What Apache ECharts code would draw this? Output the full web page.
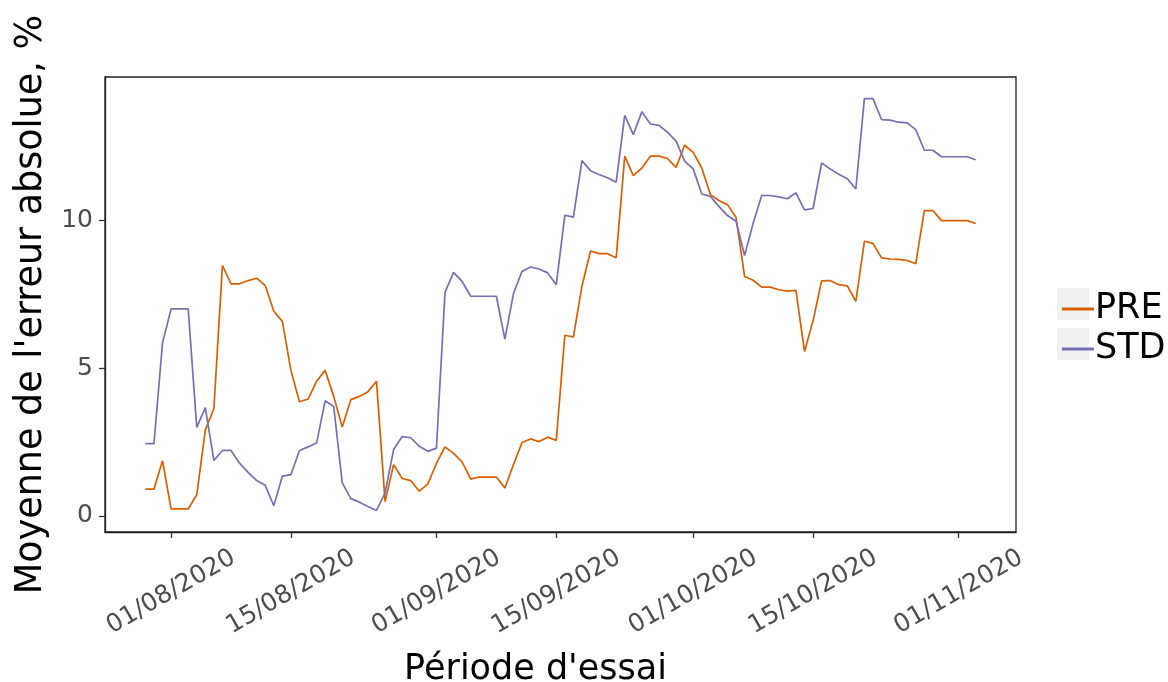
<!DOCTYPE html>
<html>
<head>
<meta charset="utf-8">
<script src="https://cdn.jsdelivr.net/npm/echarts@6/dist/echarts.min.js"></script>
<style>
html,body{margin:0;padding:0;background:#fff;}
#chart{width:1168px;height:682px;}
</style>
</head>
<body>
<div id="chart"></div>
<script>
const dates = [
'2020-07-29','2020-07-30','2020-07-31',
'2020-08-01','2020-08-02','2020-08-03','2020-08-04','2020-08-05','2020-08-06','2020-08-07','2020-08-08','2020-08-09','2020-08-10',
'2020-08-11','2020-08-12','2020-08-13','2020-08-14','2020-08-15','2020-08-16','2020-08-17','2020-08-18','2020-08-19','2020-08-20',
'2020-08-21','2020-08-22','2020-08-23','2020-08-24','2020-08-25','2020-08-26','2020-08-27','2020-08-28','2020-08-29','2020-08-30','2020-08-31',
'2020-09-01','2020-09-02','2020-09-03','2020-09-04','2020-09-05','2020-09-06','2020-09-07','2020-09-08','2020-09-09','2020-09-10',
'2020-09-11','2020-09-12','2020-09-13','2020-09-14','2020-09-15','2020-09-16','2020-09-17','2020-09-18','2020-09-19','2020-09-20',
'2020-09-21','2020-09-22','2020-09-23','2020-09-24','2020-09-25','2020-09-26','2020-09-27','2020-09-28','2020-09-29','2020-09-30',
'2020-10-01','2020-10-02','2020-10-03','2020-10-04','2020-10-05','2020-10-06','2020-10-07','2020-10-08','2020-10-09','2020-10-10',
'2020-10-11','2020-10-12','2020-10-13','2020-10-14','2020-10-15','2020-10-16','2020-10-17','2020-10-18','2020-10-19','2020-10-20',
'2020-10-21','2020-10-22','2020-10-23','2020-10-24','2020-10-25','2020-10-26','2020-10-27','2020-10-28','2020-10-29','2020-10-30','2020-10-31',
'2020-11-01','2020-11-02','2020-11-03'
];

const PRE = [
0.90,0.90,1.86,
0.23,0.23,0.23,0.71,2.90,3.63,8.47,7.85,7.85,7.96,
8.04,7.79,6.92,6.58,4.92,3.86,3.95,4.55,4.92,4.04,
3.00,3.93,4.04,4.20,4.55,0.48,1.73,1.26,1.19,0.83,1.08,
1.77,2.33,2.11,1.82,1.24,1.31,1.31,1.31,0.94,1.73,
2.48,2.60,2.51,2.66,2.55,6.11,6.05,7.77,8.96,8.87,
8.87,8.73,12.17,11.51,11.77,12.17,12.17,12.09,11.79,12.54,
12.30,11.77,10.87,10.67,10.53,10.10,8.10,7.97,7.74,7.74,
7.65,7.60,7.63,5.56,6.60,7.95,7.96,7.82,7.78,7.26,
9.29,9.22,8.73,8.69,8.68,8.64,8.53,10.33,10.33,9.99,9.99,
9.99,9.99,9.89
];

const STD = [
2.44,2.44,5.85,
7.00,7.00,7.00,2.99,3.66,1.87,2.21,2.21,1.78,1.47,
1.19,1.03,0.34,1.34,1.39,2.21,2.33,2.46,3.89,3.70,
1.11,0.58,0.46,0.31,0.18,0.77,2.24,2.68,2.64,2.35,2.18,
2.29,7.56,8.24,7.93,7.43,7.43,7.43,7.43,5.98,7.52,
8.27,8.42,8.35,8.22,7.82,10.17,10.11,12.02,11.68,11.55,
11.44,11.29,13.55,12.90,13.67,13.26,13.21,12.98,12.68,12.00,
11.74,10.89,10.81,10.47,10.16,9.97,8.81,9.90,10.84,10.84,
10.79,10.73,10.93,10.35,10.40,11.94,11.74,11.56,11.41,11.06,
14.12,14.12,13.41,13.39,13.32,13.30,13.07,12.37,12.37,12.15,12.15,
12.15,12.15,12.05
];

const seriesNames = ['PRE', 'STD'];
const xTickDates = ['2020-08-01','2020-08-15','2020-09-01','2020-09-15','2020-10-01','2020-10-15','2020-11-01'];
const xTickLabels = ['01/08/2020','15/08/2020','01/09/2020','15/09/2020','01/10/2020','15/10/2020','01/11/2020'];
const yTicks = [0, 5, 10];

// dates -> day number counted from 2020-08-01 (used as a linear axis value)
function dayNum(s) {
  const p = s.split('-').map(Number);
  return Math.round((Date.UTC(p[0], p[1] - 1, p[2]) - Date.UTC(2020, 7, 1)) / 86400000);
}
const xTickValues = xTickDates.map(dayNum);
const xMin = -7.72;
const xMax = 98.71;

const FONT = 'DejaVu Sans';
const colors = ['#d95f02', '#7570b3'];

const chart = echarts.init(document.getElementById('chart'), null, {renderer: 'canvas'});
chart.setOption({
  animation: false,
  backgroundColor: '#ffffff',
  color: colors,
  grid: {
    left: 105, right: 152, top: 77, bottom: 150,
    containLabel: false,
    outerBoundsMode: 'none',
    show: true, borderColor: '#222', borderWidth: 1.3, backgroundColor: 'transparent'
  },
  xAxis: {
    type: 'value',
    min: xMin, max: xMax,
    name: "Période d'essai",
    nameLocation: 'middle',
    nameGap: 120,
    nameTextStyle: {fontFamily: FONT, fontSize: 35, color: '#000', padding: [0, 50, 0, 0]},
    axisLine: {show: true, onZero: false, lineStyle: {color: '#222', width: 1.3}},
    axisTick: {show: true, length: 6, lineStyle: {color: '#333', width: 1.3}, customValues: xTickValues},
    splitLine: {show: false},
    axisLabel: {
      customValues: xTickValues,
      rotate: 30,
      align: 'center',
      verticalAlign: 'middle',
      margin: 60,
      fontFamily: FONT, fontSize: 25, color: '#4d4d4d',
      formatter: function (v) {
        const i = xTickValues.indexOf(v);
        return i >= 0 ? xTickLabels[i] : '';
      }
    }
  },
  yAxis: {
    type: 'value',
    min: -0.55, max: 14.85,
    name: "Moyenne de l'erreur absolue, %",
    nameLocation: 'middle',
    nameGap: 53,
    nameTextStyle: {fontFamily: FONT, fontSize: 36.5, color: '#000'},
    axisLine: {show: true, onZero: false, lineStyle: {color: '#222', width: 1.3}},
    axisTick: {show: true, length: 6, lineStyle: {color: '#333', width: 1.3}, customValues: yTicks},
    splitLine: {show: false},
    axisLabel: {
      customValues: yTicks,
      margin: 12,
      fontFamily: FONT, fontSize: 25, color: '#4d4d4d'
    }
  },
  legend: {
    data: seriesNames,
    orient: 'vertical',
    left: 1057, top: 286,
    itemWidth: 32, itemHeight: 3,
    itemGap: 4,
    icon: 'rect',
    textStyle: {fontFamily: FONT, fontSize: 35, color: '#000', lineHeight: 36, padding: [0, 0, 0, -4]}
  },
  graphic: [
    {type: 'rect', left: 1057, top: 288, z: -1, shape: {width: 32, height: 32}, style: {fill: '#f0f0f0'}},
    {type: 'rect', left: 1057, top: 328, z: -1, shape: {width: 32, height: 32}, style: {fill: '#f0f0f0'}}
  ],
  series: [
    {
      name: seriesNames[0], type: 'line', showSymbol: false, symbol: 'none',
      data: dates.map((d, i) => [dayNum(d), PRE[i]]),
      lineStyle: {width: 1.7, color: colors[0]}
    },
    {
      name: seriesNames[1], type: 'line', showSymbol: false, symbol: 'none',
      data: dates.map((d, i) => [dayNum(d), STD[i]]),
      lineStyle: {width: 1.7, color: colors[1]}
    }
  ]
});
</script>
</body>
</html>
